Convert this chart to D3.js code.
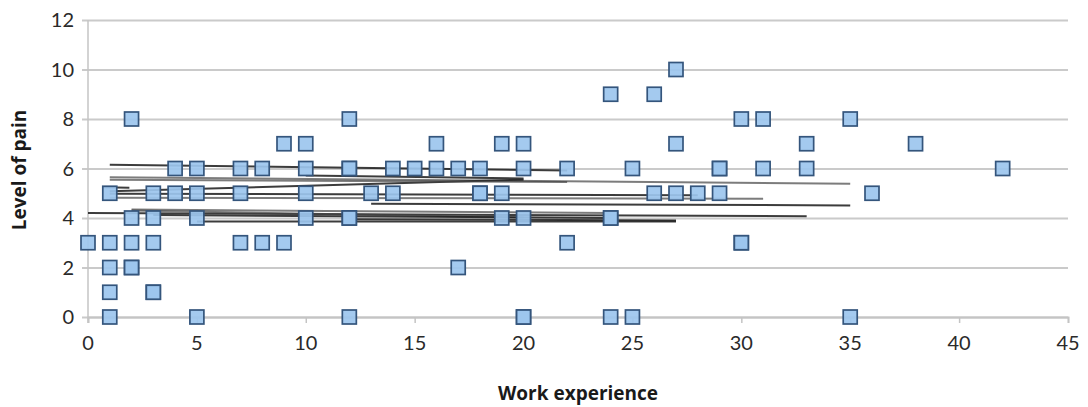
<!DOCTYPE html>
<html>
<head>
<meta charset="utf-8">
<script src="https://cdn.jsdelivr.net/npm/d3@7"></script>
<style>
  html, body { margin:0; padding:0; background:#fff; }
  .tick-lbl { font-family: Lato, "Open Sans", sans-serif; font-size:20px; fill:#2a2a2a; }
  .ax-title { font-family: "Open Sans", Lato, sans-serif; font-size:19px; font-weight:700; fill:#1a1a1a; }
</style>
</head>
<body>
<svg id="chart" width="1088" height="407"></svg>
<script>
// scatter points: work experience (years) vs level of pain
const experience = [
  27,
  24, 26,
  2, 12, 30, 31, 35,
  9, 10, 16, 19, 20, 27, 33, 38,
  4, 5, 7, 8, 10, 12, 12, 14, 15, 16, 17, 18, 20, 22, 25, 29, 29, 31, 33, 42,
  1, 3, 4, 5, 7, 10, 13, 14, 18, 18, 19, 26, 27, 28, 29, 36,
  2, 3, 5, 10, 12, 12, 19, 20, 24, 24,
  0, 1, 2, 3, 7, 8, 9, 22, 30, 30,
  1, 2, 2, 17,
  1, 3, 3,
  1, 5, 12, 20, 20, 24, 25, 35
];
const pain = [
  10,
  9, 9,
  8, 8, 8, 8, 8,
  7, 7, 7, 7, 7, 7, 7, 7,
  6, 6, 6, 6, 6, 6, 6, 6, 6, 6, 6, 6, 6, 6, 6, 6, 6, 6, 6, 6,
  5, 5, 5, 5, 5, 5, 5, 5, 5, 5, 5, 5, 5, 5, 5, 5,
  4, 4, 4, 4, 4, 4, 4, 4, 4, 4,
  3, 3, 3, 3, 3, 3, 3, 3, 3, 3,
  2, 2, 2, 2,
  1, 1, 1,
  0, 0, 0, 0, 0, 0, 0, 0
];

// stray near-flat line segments over the cloud (start x, start y, end x, end y)
const segX1 = [1,    1,    0.7,  1,    1,    13,   0,    2,    5,    1,    2,    10,   3,    1,    12];
const segY1 = [6.15, 5.65, 5.24, 5.08, 4.82, 4.58, 4.2,  4.34, 3.86, 4.98, 4.3,  5.72, 4.12, 5.55, 3.95];
const segX2 = [22,   35,   1.9,  20,   31,   35,   33,   24,   27,   28,   20,   20,   24,   22,   27];
const segY2 = [5.92, 5.38, 5.22, 5.55, 4.78, 4.51, 4.07, 4.2,  3.86, 4.92, 4.02, 5.6,  4.0,  5.45, 3.9];

const xTicks = [0, 5, 10, 15, 20, 25, 30, 35, 40, 45];
const yTicks = [0, 2, 4, 6, 8, 10, 12];

(() => {
const svg = d3.select("#chart");
const mL = 88, mR = 1068, mT = 20, mB = 317;

const x = d3.scaleLinear().domain([0, 45]).range([mL, mR]);
const y = d3.scaleLinear().domain([0, 12]).range([mB, mT]);

// gridlines
svg.append("g")
  .attr("transform", `translate(${mL},0)`)
  .call(d3.axisLeft(y).tickValues(yTicks).tickSize(-(mR - mL) - 6).tickFormat(""))
  .call(g => g.select(".domain").remove())
  .call(g => g.selectAll("line").attr("stroke", "#cacaca").attr("stroke-width", 1.8).attr("transform", "translate(-6,0)"));

// y axis line + labels
svg.append("line")
  .attr("x1", mL).attr("x2", mL).attr("y1", mT).attr("y2", mB + 6)
  .attr("stroke", "#c4c4c4").attr("stroke-width", 1.5);

svg.append("g").selectAll("text")
  .data(yTicks).join("text")
  .attr("class", "tick-lbl")
  .attr("x", mL - 14)
  .attr("y", d => y(d))
  .attr("dy", "0.35em")
  .attr("text-anchor", "end")
  .text(d => d);

// x axis ticks + labels
svg.append("g")
  .attr("transform", `translate(0,${mB})`)
  .call(d3.axisBottom(x).tickValues(xTicks).tickSize(6).tickFormat(""))
  .call(g => g.select(".domain").attr("stroke", "#c4c4c4").attr("stroke-width", 1.8))
  .call(g => g.selectAll("line").attr("stroke", "#c4c4c4").attr("stroke-width", 1.5));

svg.append("g").selectAll("text")
  .data(xTicks).join("text")
  .attr("class", "tick-lbl")
  .attr("x", d => x(d))
  .attr("y", mB + 33)
  .attr("text-anchor", "middle")
  .text(d => d);

// the line segments
const segs = d3.range(segX1.length).map(i => ({x1: segX1[i], y1: segY1[i], x2: segX2[i], y2: segY2[i]}));
svg.append("g").selectAll("line")
  .data(segs).join("line")
  .attr("x1", d => x(d.x1)).attr("y1", d => y(d.y1))
  .attr("x2", d => x(d.x2)).attr("y2", d => y(d.y2))
  .attr("stroke", (d, i) => i % 3 === 1 ? "#444" : "#1a1a1a")
  .attr("stroke-opacity", (d, i) => i % 3 === 1 ? 0.7 : 0.85)
  .attr("stroke-width", 2);

// markers
const pts = experience.map((e, i) => ({e, p: pain[i]}));
const S = 14;
svg.append("g").selectAll("rect")
  .data(pts).join("rect")
  .attr("x", d => x(d.e) - S / 2)
  .attr("y", d => y(d.p) - S / 2)
  .attr("width", S).attr("height", S)
  .attr("fill", "#9cc6ee")
  .attr("fill-opacity", 0.92)
  .attr("stroke", "#34557c")
  .attr("stroke-width", 1.7);

// axis titles
svg.append("text")
  .attr("class", "ax-title")
  .attr("x", 578)
  .attr("y", 400)
  .attr("text-anchor", "middle")
  .text("Work experience");

svg.append("text")
  .attr("class", "ax-title")
  .attr("transform", `translate(26,170) rotate(-90)`)
  .attr("text-anchor", "middle")
  .text("Level of pain");
})();
</script>
</body>
</html>
